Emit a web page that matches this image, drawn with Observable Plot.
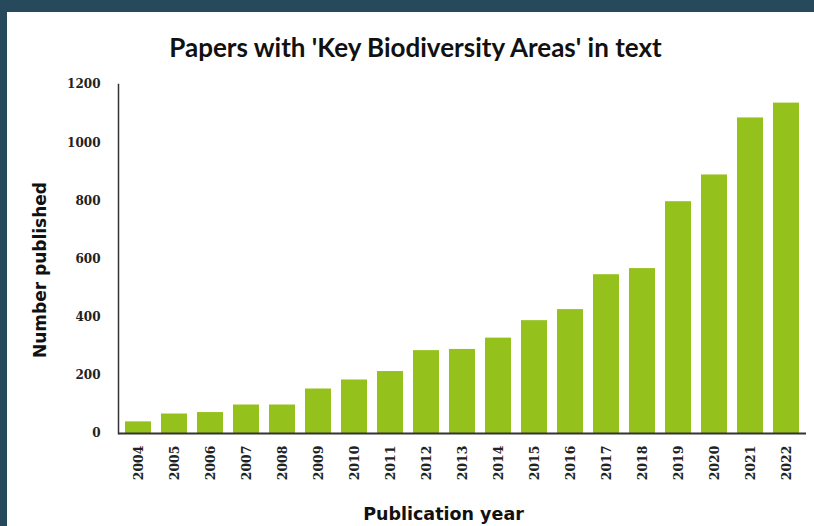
<!DOCTYPE html>
<html>
<head>
<meta charset="utf-8">
<script src="https://cdn.jsdelivr.net/npm/d3@7"></script>
<script src="https://cdn.jsdelivr.net/npm/@observablehq/plot@0.6"></script>
<style>
  html, body { margin: 0; padding: 0; }
  body { width: 814px; height: 526px; background: #264a5c; position: relative; overflow: hidden; }
  #panel { position: absolute; left: 7px; top: 12px; width: 807px; height: 514px; background: #ffffff; }
  #title {
    height: 58px; box-sizing: border-box; padding-top: 20px; padding-left: 10px;
    text-align: center; font-family: Lato, "Open Sans", sans-serif; font-weight: 700;
    font-size: 26px; color: #111; letter-spacing: 0; line-height: 30px; white-space: nowrap;
  }
  #chart svg { display: block; }
</style>
</head>
<body>
<div id="panel">
  <div id="title">Papers with 'Key Biodiversity Areas' in text</div>
  <div id="chart"></div>
</div>
<script>
// Annual count of papers mentioning "Key Biodiversity Areas"
const years = ["2004", "2005", "2006", "2007", "2008", "2009", "2010", "2011", "2012", "2013",
               "2014", "2015", "2016", "2017", "2018", "2019", "2020", "2021", "2022"];
const papers = [40, 67, 72, 98, 98, 153, 184, 213, 285, 289,
                328, 388, 426, 546, 567, 797, 889, 1085, 1136];
const yTicks = [0, 200, 400, 600, 800, 1000, 1200];
const xTitle = "Publication year";
const yTitle = "Number published";

const rows = years.map((year, i) => ({year, count: papers[i]}));

const barColor = "#95c11c";
const axisColor = "#333333";

const chart = Plot.plot({
  width: 807,
  height: 456,
  marginLeft: 111,
  marginRight: 8,
  marginTop: 14,
  marginBottom: 93,
  style: {background: "#ffffff", color: "#111"},
  x: {domain: years, paddingInner: 0.28, paddingOuter: 0.02, label: null},
  y: {domain: [0, 1200], label: null},
  marks: [
    Plot.barY(rows, {x: "year", y: "count", fill: barColor}),
    Plot.axisY({
      ticks: yTicks, tickFormat: d3.format("d"), tickSize: 0, tickPadding: 18, label: null,
      fontFamily: "DejaVu Serif", fontWeight: "bold", fontSize: 12, fill: "#222"
    }),
    Plot.axisX({
      tickSize: 0, tickPadding: 12, tickRotate: -90, label: null,
      fontFamily: "DejaVu Serif", fontWeight: "bold", fontSize: 12.5, fill: "#222"
    }),
    Plot.frame({anchor: "left", stroke: axisColor, strokeWidth: 1.5}),
    Plot.ruleY([0], {stroke: axisColor, strokeWidth: 2}),
    Plot.text([xTitle], {
      frameAnchor: "bottom", textAnchor: "middle", dx: -19, dy: 86, text: d => d,
      fontFamily: "DejaVu Sans", fontWeight: "bold", fontSize: 17.5, fill: "#111"
    }),
    Plot.text([yTitle], {
      frameAnchor: "left", textAnchor: "middle", dx: -78, dy: 11, rotate: -90, text: d => d,
      fontFamily: "DejaVu Sans", fontWeight: "bold", fontSize: 17, fill: "#111"
    })
  ]
});

document.getElementById("chart").append(chart);
</script>
</body>
</html>
